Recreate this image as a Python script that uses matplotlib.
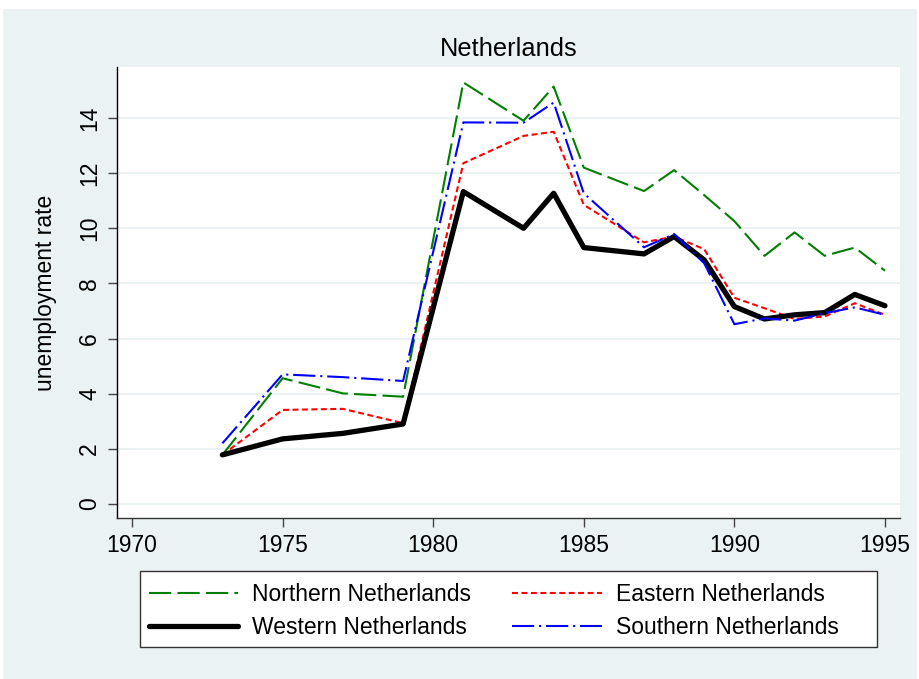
import matplotlib
matplotlib.use("Agg")
import matplotlib.pyplot as plt
from matplotlib.patches import Rectangle

plt.rcParams['font.family'] = ['Liberation Sans', 'DejaVu Sans']
plt.rcParams['lines.scale_dashes'] = False

years = [1973, 1975, 1977, 1979, 1981, 1983, 1984, 1985, 1987, 1988,
         1989, 1990, 1991, 1992, 1993, 1994, 1995]

northern = [1.78, 4.56, 4.01, 3.89, 15.29, 13.90, 15.14, 12.20, 11.35, 12.11,
            11.20, 10.26, 9.00, 9.85, 9.00, 9.30, 8.46]
eastern = [1.78, 3.41, 3.45, 2.93, 12.36, 13.35, 13.50, 10.85, 9.49, 9.70,
           9.24, 7.48, 7.10, 6.71, 6.80, 7.28, 6.86]
western = [1.78, 2.36, 2.56, 2.90, 11.33, 10.00, 11.27, 9.30, 9.07, 9.70,
           8.85, 7.16, 6.71, 6.86, 6.94, 7.60, 7.19]
southern = [2.20, 4.70, 4.60, 4.46, 13.84, 13.83, 14.56, 11.27, 9.31, 9.79,
            8.73, 6.52, 6.73, 6.65, 6.92, 7.13, 6.86]

xticks = [1970, 1975, 1980, 1985, 1990, 1995]
yticks = [0, 2, 4, 6, 8, 10, 12, 14]

bg = "#EAF2F3"
fs = 16.5

W, H = 919, 679
fig = plt.figure(figsize=(W / 100, H / 100), dpi=100, facecolor="white")
# light bluish-grey page behind the plot region
fig.patches.append(Rectangle((3 / W, 0), 914 / W, 670 / H, transform=fig.transFigure,
                             facecolor=bg, edgecolor="none", zorder=-10))

ax = fig.add_axes([117 / W, (H - 518) / H, (900 - 117) / W, (518 - 67) / H])
ax.set_facecolor("white")

styles = {
    "Northern Netherlands": dict(color="#008000", lw=1.5, dashes=(16, 4.5)),
    "Eastern Netherlands": dict(color="#FF0000", lw=1.5, dashes=(4.3, 2.5)),
    "Western Netherlands": dict(color="black", lw=3.8, solid_capstyle="round",
                                solid_joinstyle="round"),
    "Southern Netherlands": dict(color="#0000FF", lw=1.5, dashes=(16, 3.5, 1.5, 3.5)),
}
series = {
    "Northern Netherlands": northern,
    "Eastern Netherlands": eastern,
    "Western Netherlands": western,
    "Southern Netherlands": southern,
}

handles = []
for name in ["Northern Netherlands", "Eastern Netherlands", "Western Netherlands",
             "Southern Netherlands"]:
    ln, = ax.plot(years, series[name], label=name, zorder=3, **styles[name])
    handles.append(ln)

ax.set_xlim(1969.5, 1995.5)
ax.set_ylim(-0.51, 15.85)
ax.set_xticks(xticks)
ax.set_yticks(yticks)
ax.grid(axis="y", color=bg, lw=1.5, zorder=0)
ax.grid(axis="x", visible=False)

ax.spines["top"].set_visible(False)
ax.spines["right"].set_visible(False)
ax.spines["left"].set_color("black")
ax.spines["left"].set_linewidth(1.0)
ax.spines["bottom"].set_color("#333333")
ax.spines["bottom"].set_linewidth(1.0)

ax.tick_params(axis="both", direction="out", length=6.5, width=1.0, color="#444444",
               labelsize=fs)
ax.tick_params(axis="x", pad=5)
ax.tick_params(axis="y", pad=5)
for lab in ax.get_yticklabels():
    lab.set_rotation(90)
    lab.set_va("center")

ax.set_ylabel("unemployment rate", fontsize=fs, labelpad=15)
ax.set_title("Netherlands", fontsize=18.3, pad=8)

# legend: boxed, two columns, below the plot
fig.patches.append(Rectangle((140 / W, (H - 647) / H), (877 - 140) / W, (647 - 571) / H,
                             transform=fig.transFigure, facecolor="white",
                             edgecolor="#333333", lw=1.0, zorder=1))
leg = fig.legend(handles=[handles[0], handles[2], handles[1], handles[3]],
                 labels=["Northern Netherlands", "Western Netherlands",
                         "Eastern Netherlands", "Southern Netherlands"],
                 ncol=2, loc="upper left", bbox_to_anchor=(149 / W, (H - 583) / H),
                 frameon=False, fontsize=fs, handlelength=3.9, handletextpad=0.6,
                 columnspacing=1.8, labelspacing=0.45, borderpad=0, borderaxespad=0)

fig.savefig("out.png", dpi=100, facecolor="white")
